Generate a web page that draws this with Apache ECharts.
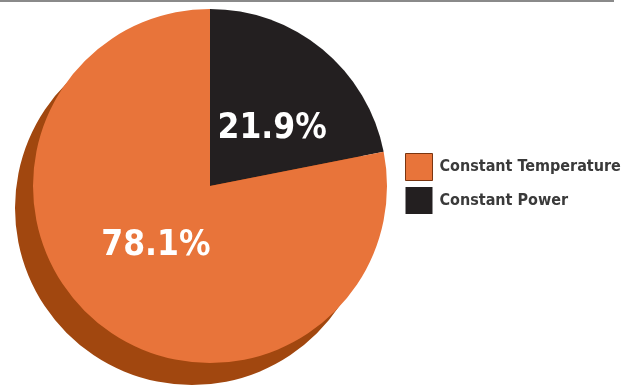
<!DOCTYPE html>
<html>
<head>
<meta charset="utf-8">
<script src="https://cdn.jsdelivr.net/npm/echarts@6/dist/echarts.min.js"></script>
<style>
html,body{margin:0;padding:0;background:#fff;}
#c{width:622px;height:386px;}
</style>
</head>
<body>
<div id="c"></div>
<script>
var categories = ['Constant Power', 'Constant Temperature'];
var values = [21.9, 78.1];
var labels = ['21.9%', '78.1%'];
var legendOrder = ['Constant Temperature', 'Constant Power'];

var colors = ['#231f20', '#e8743a'];
var shadowColor = '#a1470f';
var labelFont = "'Liberation Sans Narrow', 'DejaVu Sans Condensed', sans-serif";

var chart = echarts.init(document.getElementById('c'));
var data = categories.map(function (c, i) {
  return { name: c, value: values[i], itemStyle: { color: colors[i] } };
});
var shadowData = categories.map(function (c, i) {
  return { name: c + ' shadow', value: values[i], itemStyle: { color: shadowColor } };
});
var labelShift = { 'Constant Power': [4, 14], 'Constant Temperature': [4, -11] };

chart.setOption({
  animation: false,
  backgroundColor: '#fff',
  graphic: [{
    type: 'line',
    shape: { x1: 0, y1: 1, x2: 614, y2: 1 },
    style: { stroke: '#8a8a8a', lineWidth: 2 },
    silent: true
  }],
  legend: {
    data: legendOrder.map(function (n) {
      return n === 'Constant Temperature'
        ? { name: n, itemStyle: { borderColor: '#7a3510', borderWidth: 1 } }
        : { name: n };
    }),
    orient: 'vertical',
    left: 405,
    top: 153,
    padding: 0,
    itemWidth: 27,
    itemHeight: 27,
    itemGap: 6,
    icon: 'rect',
    selectedMode: false,
    textStyle: {
      fontFamily: labelFont,
      fontWeight: 'bold',
      fontSize: 16,
      color: '#3a3a3a',
      padding: [0, 0, 0, 2]
    }
  },
  series: [{
    type: 'pie',
    silent: true,
    center: [192, 208],
    radius: 177,
    startAngle: 90,
    clockwise: true,
    label: { show: false },
    labelLine: { show: false },
    data: shadowData
  }, {
    type: 'pie',
    center: [210, 186],
    radius: 177,
    startAngle: 90,
    clockwise: true,
    label: {
      show: true,
      position: 'inside',
      formatter: function (p) { return labels[p.dataIndex]; },
      color: '#ffffff',
      fontFamily: labelFont,
      fontWeight: 'bold',
      fontSize: 35
    },
    labelLayout: function (p) {
      var s = labelShift[categories[p.dataIndex]] || [0, 0];
      return { dx: s[0], dy: s[1] };
    },
    labelLine: { show: false },
    itemStyle: { borderWidth: 0 },
    emphasis: { disabled: true },
    data: data
  }]
});
</script>
</body>
</html>
